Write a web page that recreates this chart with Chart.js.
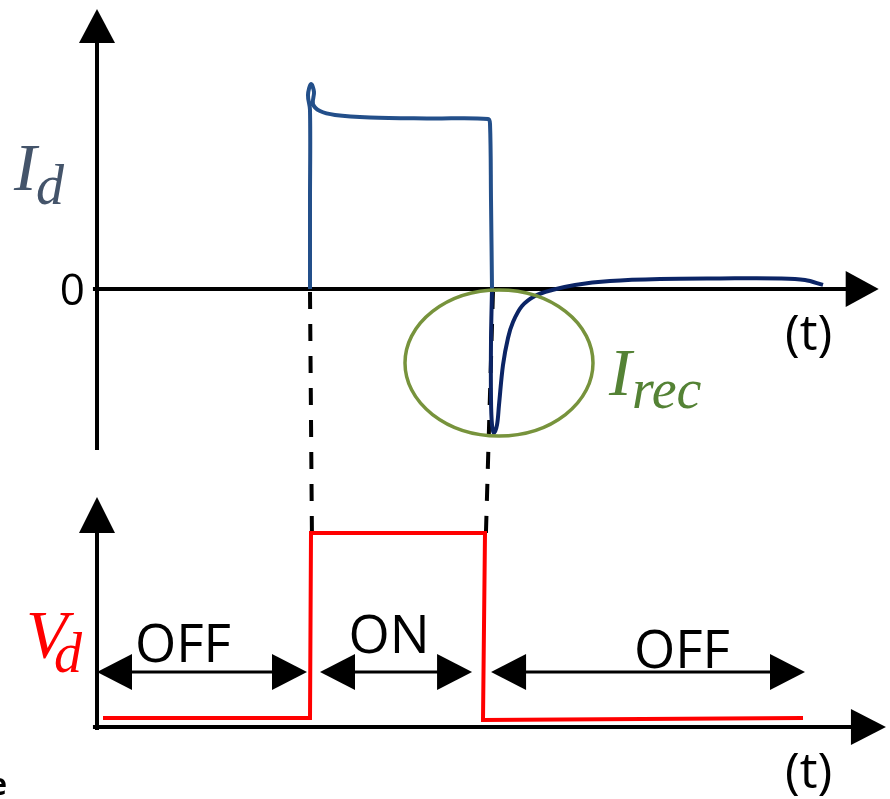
<!DOCTYPE html>
<html>
<head>
<meta charset="utf-8">
<script src="https://cdn.jsdelivr.net/npm/chart.js@4/dist/chart.umd.min.js"></script>
<style>
  html, body { margin: 0; padding: 0; background: #fff; }
  #wrap { width: 890px; height: 799px; position: relative; }
</style>
</head>
<body>
<div id="wrap"><canvas id="chart"></canvas></div>
<script>
// time axis in arbitrary units, t = 0 at the vertical axes
const idTime    = [10.0, 10.0, 10.0, 9.906, 10.047, 10.188, 10.141, 10.469, 11.174, 12.817, 15.634, 18.357, 18.451, 18.498, 18.545];
const idCurrent = [0, 0.524, 1.053, 1.141, 1.206, 1.159, 1.088, 1.047, 1.024, 1.009, 1.003, 1.0, 0.971, 0.524, 0];

// reverse recovery tail
const recTime    = [18.545, 18.498, 18.498, 18.545, 18.638, 18.779, 18.873, 19.061, 19.296, 19.531, 19.953, 20.563, 21.362, 22.441, 24.085, 26.432, 29.249, 32.066, 33.239, 34.085];
const recCurrent = [0, -0.3, -0.653, -0.8, -0.847, -0.8, -0.682, -0.447, -0.288, -0.194, -0.1, -0.041, -0.006, 0.024, 0.047, 0.059, 0.062, 0.062, 0.053, 0.024];

// diode voltage
const vdTime    = [0.282, 10.0, 10.047, 18.216, 18.122, 33.146];
const vdVoltage = [0.046, 0.046, 1.0, 1.0, 0.036, 0.046];

// OFF / ON / OFF phases (arrow spans)
const phaseNames = ['OFF', 'ON', 'OFF'];
const phaseStart = [0, 10.47, 18.5];
const phaseEnd   = [9.86, 17.61, 33.24];

// switching instants for the dashed guides
const switchTop    = [10.0, 18.59];
const switchBottom = [10.09, 18.26];

const pts = (xs, ys) => xs.map((x, i) => ({ x: x, y: ys[i] }));

const overlay = {
  id: 'overlay',
  beforeDatasetsDraw(chart) {
    const ctx = chart.ctx;
    const x = chart.scales.x, yI = chart.scales.yI, yV = chart.scales.yV;
    ctx.save();
    ctx.strokeStyle = '#000';
    ctx.fillStyle = '#000';
    ctx.lineWidth = 4;
    ctx.lineCap = 'butt';

    const tri = (tx, ty, dx, dy, len, half) => {
      // arrow head pointing along (dx,dy)
      ctx.beginPath();
      ctx.moveTo(tx, ty);
      ctx.lineTo(tx - dx * len + dy * half, ty - dy * len - dx * half);
      ctx.lineTo(tx - dx * len - dy * half, ty - dy * len + dx * half);
      ctx.closePath();
      ctx.fill();
    };

    // top axes
    const x0 = x.getPixelForValue(0);
    ctx.beginPath();
    ctx.moveTo(x0, yI.getPixelForValue(-0.947));
    ctx.lineTo(x0, yI.getPixelForValue(1.45));
    ctx.stroke();
    tri(x0, yI.getPixelForValue(1.647), 0, -1, 34, 18);
    ctx.beginPath();
    ctx.moveTo(x.getPixelForValue(-0.19), yI.getPixelForValue(0));
    ctx.lineTo(x.getPixelForValue(35.3), yI.getPixelForValue(0));
    ctx.stroke();
    tri(x.getPixelForValue(36.7), yI.getPixelForValue(0), 1, 0, 33, 18);

    // bottom axes
    ctx.beginPath();
    ctx.moveTo(x0, yV.getPixelForValue(-0.015));
    ctx.lineTo(x0, yV.getPixelForValue(1.0));
    ctx.stroke();
    tri(x0, yV.getPixelForValue(1.186), 0, -1, 36, 18);
    ctx.beginPath();
    ctx.moveTo(x.getPixelForValue(-0.19), yV.getPixelForValue(0));
    ctx.lineTo(x.getPixelForValue(35.6), yV.getPixelForValue(0));
    ctx.stroke();
    tri(x.getPixelForValue(37.04), yV.getPixelForValue(0), 1, 0, 35, 18);

    // dashed guides
    ctx.setLineDash([17, 15]);
    ctx.lineWidth = 4;
    switchTop.forEach((t, i) => {
      ctx.beginPath();
      ctx.moveTo(x.getPixelForValue(t), yI.getPixelForValue(0) + 3);
      ctx.lineTo(x.getPixelForValue(switchBottom[i]), yV.getPixelForValue(1.0));
      ctx.stroke();
    });
    ctx.restore();
  },
  afterDatasetsDraw(chart) {
    const ctx = chart.ctx;
    const x = chart.scales.x, yI = chart.scales.yI, yV = chart.scales.yV;
    ctx.save();

    // recovery ellipse
    const cx = x.getPixelForValue(18.873), cy = yI.getPixelForValue(-0.435);
    const rx = x.getPixelForValue(18.873 + 4.413) - cx;
    const ry = yI.getPixelForValue(-0.435 - 0.429) - cy;
    ctx.strokeStyle = '#77933c';
    ctx.lineWidth = 3.5;
    ctx.beginPath();
    ctx.ellipse(cx, cy, rx, ry, 0, 0, Math.PI * 2);
    ctx.stroke();

    // phase arrows
    ctx.strokeStyle = '#000';
    ctx.fillStyle = '#000';
    ctx.lineWidth = 3;
    const ay = yV.getPixelForValue(0.284);
    const len = 35, half = 18;
    phaseNames.forEach((name, i) => {
      const a = x.getPixelForValue(phaseStart[i]);
      const b = x.getPixelForValue(phaseEnd[i]);
      ctx.beginPath();
      ctx.moveTo(a + len - 2, ay);
      ctx.lineTo(b - len + 2, ay);
      ctx.stroke();
      ctx.beginPath();
      ctx.moveTo(a, ay); ctx.lineTo(a + len, ay - half); ctx.lineTo(a + len, ay + half); ctx.closePath();
      ctx.fill();
      ctx.beginPath();
      ctx.moveTo(b, ay); ctx.lineTo(b - len, ay - half); ctx.lineTo(b - len, ay + half); ctx.closePath();
      ctx.fill();
    });

    // phase labels
    ctx.font = '53px "Open Sans"';
    ctx.textAlign = 'center';
    ctx.textBaseline = 'alphabetic';
    ctx.fillText(phaseNames[0], 183, 662);
    ctx.fillText(phaseNames[1], 389, 653);
    ctx.fillText(phaseNames[2], 682, 668);

    // axis texts
    ctx.font = '44px "Open Sans"';
    ctx.textAlign = 'right';
    ctx.fillText('0', 85, 305);
    ctx.font = '50px "Open Sans"';
    ctx.textAlign = 'left';
    ctx.fillText('(t)', 785, 350);
    ctx.fillText('(t)', 785, 788);
    ctx.font = 'bold 30px "Open Sans"';
    ctx.textAlign = 'right';
    ctx.fillText('e', 7, 795);

    // math labels
    const sym = (main, sub, mx, mb, sx, sb, msz, ssz, color) => {
      ctx.fillStyle = color;
      ctx.textAlign = 'left';
      ctx.font = 'italic ' + msz + 'px "Liberation Serif"';
      ctx.fillText(main, mx, mb);
      ctx.font = 'italic ' + ssz + 'px "Liberation Serif"';
      ctx.fillText(sub, sx, sb);
    };
    sym('I', 'd', 14, 190, 36, 204, 68, 56, '#44546a');
    sym('V', 'd', 26, 657, 54, 672, 68, 56, '#ff0000');
    sym('I', 'rec', 609, 395, 632, 408, 68, 56, '#548235');

    ctx.restore();
  }
};

new Chart(document.getElementById('chart'), {
  type: 'scatter',
  data: {
    datasets: [
      { label: 'Id', data: pts(idTime, idCurrent), showLine: true, borderColor: '#234f8a', borderWidth: 4,
        tension: 0.35, pointRadius: 0, xAxisID: 'x', yAxisID: 'yI' },
      { label: 'Irec', data: pts(recTime, recCurrent), showLine: true, borderColor: '#0b2465', borderWidth: 4,
        tension: 0.35, pointRadius: 0, xAxisID: 'x', yAxisID: 'yI' },
      { label: 'Vd', data: pts(vdTime, vdVoltage), showLine: true, borderColor: '#ff0000', borderWidth: 4,
        tension: 0, pointRadius: 0, xAxisID: 'x', yAxisID: 'yV' }
    ]
  },
  options: {
    responsive: true,
    maintainAspectRatio: false,
    animation: false,
    layout: { padding: 0 },
    plugins: { legend: { display: false }, tooltip: { enabled: false } },
    scales: {
      x:  { type: 'linear', min: -4.554, max: 37.23, display: false },
      yI: { type: 'linear', min: -3.0, max: 1.7, display: false },
      yV: { type: 'linear', min: -0.371, max: 3.747, display: false }
    }
  },
  plugins: [overlay]
});
</script>
</body>
</html>
